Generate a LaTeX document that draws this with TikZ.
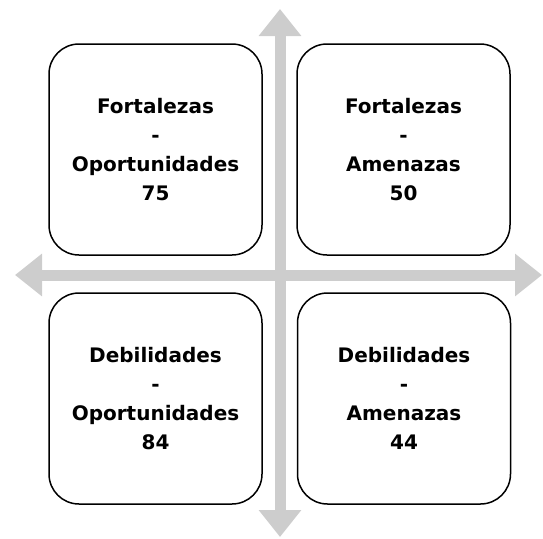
\documentclass[tikz,border=0pt]{standalone}
\usepackage{fontspec}
\setmainfont{DejaVu Sans}
\usetikzlibrary{arrows.meta}
\definecolor{arrowgray}{RGB}{205,205,205}
\tikzset{
  quadbox/.style={draw=black, line width=1.5pt, fill=white, rounded corners=30pt,
    minimum width=213pt, minimum height=211pt, align=center, inner sep=0pt,
    font=\bfseries\fontsize{20}{29}\selectfont},
  bigarrow/.style={draw=arrowgray, line width=11pt,
    {Triangle[length=27pt,width=41pt]}-{Triangle[length=27pt,width=41pt]}}
}
\begin{document}
\begin{tikzpicture}[x=1pt,y=-1pt]
\useasboundingbox (0,0) rectangle (543,538);
\coordinate (top) at (280,9);
\coordinate (bottom) at (280,537);
\coordinate (left) at (15,275);
\coordinate (right) at (542,275);
\draw[bigarrow] (top) -- (bottom);
\draw[bigarrow] (left) -- (right);
\node[quadbox] (fo) at (155.5,149.5) {Fortalezas\\-\\Oportunidades\\75};
\node[quadbox] (fa) at (403.5,149.5) {Fortalezas\\-\\Amenazas\\50};
\node[quadbox] (do) at (155.5,398.5) {Debilidades\\-\\Oportunidades\\84};
\node[quadbox] (da) at (404,398.5) {Debilidades\\-\\Amenazas\\44};
\end{tikzpicture}
\end{document}
